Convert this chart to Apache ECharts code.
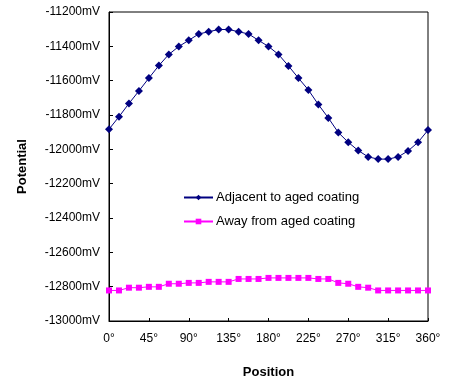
<!DOCTYPE html>
<html><head><meta charset="utf-8">
<script src="https://cdn.jsdelivr.net/npm/echarts@6/dist/echarts.min.js"></script>
<style>html,body{margin:0;padding:0;background:#fff}#c{width:461px;height:384px}</style>
</head><body><div id="c"></div>
<script>
const positions = [0, 11.25, 22.5, 33.75, 45, 56.25, 67.5, 78.75, 90, 101.25, 112.5, 123.75, 135, 146.25, 157.5, 168.75, 180, 191.25, 202.5, 213.75, 225, 236.25, 247.5, 258.75, 270, 281.25, 292.5, 303.75, 315, 326.25, 337.5, 348.75, 360];
const adjacent = [-11883, -11810, -11733, -11660, -11585, -11512, -11447, -11401, -11365, -11328, -11315, -11302, -11302, -11315, -11328, -11365, -11401, -11447, -11514, -11585, -11654, -11739, -11817, -11902, -11959, -12007, -12044, -12057, -12057, -12044, -12009, -11959, -11888];
const away = [-12822, -12822, -12806, -12806, -12801, -12801, -12783, -12783, -12778, -12778, -12772, -12772, -12772, -12755, -12755, -12755, -12749, -12749, -12749, -12749, -12749, -12755, -12755, -12778, -12783, -12801, -12806, -12822, -12822, -12822, -12822, -12822, -12822];
const seriesNames = ['Adjacent to aged coating', 'Away from aged coating'];
const xTitle = 'Position', yTitle = 'Potential';

const chart = echarts.init(document.getElementById('c'));
const font = 'Liberation Sans, Arial, sans-serif';
chart.setOption({
  animation: false,
  grid: {left: 109, right: 33, top: 12, bottom: 59, show: true, borderColor: '#000', borderWidth: 1},
  legend: {
    orient: 'vertical', left: 178, top: 186, itemWidth: 29, itemHeight: 7, itemGap: 11,
    textStyle: {fontFamily: font, fontSize: 13, color: '#000', padding: [0, 0, 0, -2]},
    data: seriesNames
  },
  xAxis: {
    type: 'value', min: 0, max: 360, interval: 45,
    name: xTitle, nameLocation: 'middle', nameGap: 45,
    nameTextStyle: {fontFamily: font, fontSize: 13, fontWeight: 'bold', color: '#000'},
    axisLine: {lineStyle: {color: '#000'}},
    axisTick: {inside: true, length: 3, lineStyle: {color: '#000'}},
    axisLabel: {formatter: v => v + '°', fontFamily: font, fontSize: 12, color: '#000', margin: 12},
    splitLine: {show: false}
  },
  yAxis: {
    type: 'value', min: -13000, max: -11200, interval: 200,
    name: yTitle, nameLocation: 'middle', nameGap: 80, nameRotate: 90,
    nameTextStyle: {fontFamily: font, fontSize: 13, fontWeight: 'bold', color: '#000'},
    axisLine: {show: true, lineStyle: {color: '#000'}},
    axisTick: {show: true, inside: true, length: 4, lineStyle: {color: '#000'}},
    axisLabel: {formatter: v => String(v) + 'mV', fontFamily: font, fontSize: 12, color: '#000', margin: 9},
    splitLine: {show: false}
  },
  series: [
    {name: seriesNames[0], type: 'line', data: positions.map((p, i) => [p, adjacent[i]]),
     symbol: 'diamond', symbolSize: 8, color: '#000080', lineStyle: {width: 1, color: '#000080'}, itemStyle: {color: '#000080'}},
    {name: seriesNames[1], type: 'line', data: positions.map((p, i) => [p, away[i]]),
     symbol: 'rect', symbolSize: 6, color: '#FF00FF', lineStyle: {width: 1, color: '#FF00FF'}, itemStyle: {color: '#FF00FF'}}
  ]
});
</script></body></html>
